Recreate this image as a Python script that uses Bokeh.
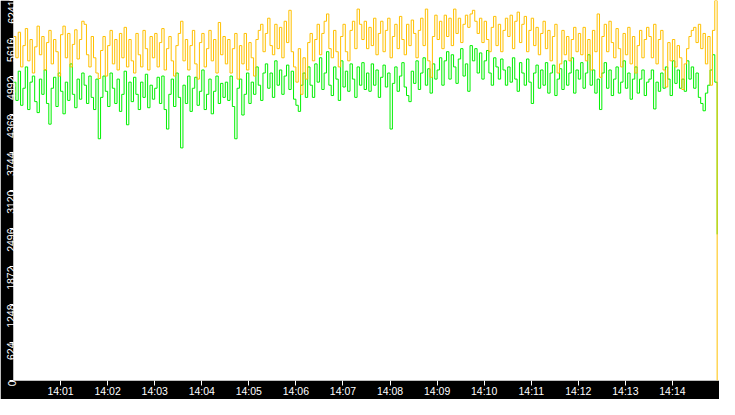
import math
import pandas as pd
from bokeh.plotting import figure
from bokeh.models import FixedTicker, DatetimeTickFormatter, Range1d
from bokeh.embed import file_html
from bokeh.resources import INLINE

# ---- data -------------------------------------------------------------
start_time = "2024-01-01 14:00:00"
end_time = "2024-01-01 14:15:00"
sample_seconds = 3

yellow_values = [
    5650, 5300, 5720, 5150, 5500, 5780, 5250, 5600, 5050, 5480, 5820, 5350, 5650, 5100, 5550,
    5750, 5200, 5600, 5400, 5000, 5680, 5820, 5300, 5700, 5150, 5520, 5760, 5280, 5600, 5900,
    5850, 5350, 5150, 5650, 5300, 5050, 4960, 5420, 5650, 5000, 5500, 5750, 5200, 5600, 5100,
    5700, 5300, 5800, 5150, 5600, 5250, 5050, 5700, 5350, 5150, 5750, 5450, 5100, 5650, 5300,
    5700, 5150, 5550, 5780, 5100, 5450, 5650, 5250, 5000, 5500, 5700, 5900, 5250, 5600, 5100,
    5500, 5750, 5200, 4950, 5550, 5700, 5150, 5450, 5750, 5250, 5600, 5050, 5880, 5350, 5650,
    5200, 5600, 5050, 5450, 5700, 4950, 5500, 5200, 5700, 5100, 5550, 5300, 5000, 5600, 5750,
    5850, 5400, 5700, 5950, 5500, 5350, 5850, 5450, 5800, 5300, 5900, 5550, 6080, 5400, 5150,
    4900, 5450, 4700, 5300, 4950, 5550, 5700, 5250, 5600, 5850, 5350, 5700, 5900, 6020, 5450,
    5300, 5750, 5400, 5150, 5650, 5850, 5400, 5250, 5750, 5900, 5450, 6100, 5850, 5600, 5900,
    5450, 5800, 5500, 5950, 5350, 5700, 5900, 5400, 5750, 5950, 5300, 5650, 5850, 5450, 5980,
    5600, 5350, 5850, 5500, 5920, 5700, 5300, 5750, 5950, 5500, 6100, 5250, 4980, 5650, 6000,
    5600, 5900, 5450, 6000, 5650, 5950, 5500, 6100, 5700, 5950, 5550, 5850, 6000, 5800, 6020,
    6080, 5900, 5700, 5950, 5550, 5900, 5600, 5400, 5800, 5980, 5500, 5850, 5400, 5750, 5950,
    5650, 6000, 5450, 5900, 6050, 5550, 5850, 5980, 5400, 5750, 5950, 5500, 5800, 5350, 5700,
    5900, 5450, 5750, 5250, 5650, 5850, 5050, 5200, 5750, 5350, 5650, 5250, 5600, 5800, 5400,
    5700, 5350, 5800, 5250, 5600, 5100, 5750, 5400, 6020, 4980, 5650, 5850, 5400, 5900, 5550,
    5300, 5780, 5450, 5150, 5700, 5350, 5800, 5200, 5650, 5050, 5500, 5750, 5300, 5600, 5800,
    5650, 5300, 5850, 5200, 5600, 5750, 5100, 4820, 5550, 5250, 5600, 5150, 5500, 5300, 4780,
    5200, 5450, 5650, 5750, 5800, 5550, 5850, 5450, 5700, 5200, 5650, 4850, 5750, 6241, 0,
]

green_values = [
    4900, 4600, 5080, 4520, 4800, 5150, 4450, 4900, 5000, 4580, 4400, 4950, 4700, 5100, 4550,
    4210, 4800, 4980, 4500, 5050, 4750, 4380, 4900, 4600, 5200, 4700, 4480, 4950, 4620, 5050,
    4850, 4550, 5000, 4650, 4450, 4950, 3970, 4650, 5000, 4750, 4500, 5050, 4800, 4550, 4950,
    4420, 4700, 5080, 4200, 4900, 4580, 4980, 4700, 4450, 4900, 4650, 5030, 4480, 4850, 4620,
    4800, 4980, 4550, 5000, 4450, 4130, 4700, 4950, 4500, 5050, 4650, 3820, 4850, 4550, 5000,
    4420, 4800, 4980, 4520, 4750, 5100, 4450, 4700, 4950, 4380, 4750, 5000, 4550, 4880, 4650,
    4900, 4600, 5000, 4500, 3970, 4800, 4950, 4360, 4700, 5050, 4550, 4900, 4700, 5150, 4850,
    4600, 5050, 5200, 4800, 5050, 4650, 5250, 4850, 5100, 4700, 5000, 5180, 4780, 5080, 4620,
    4520, 4420, 4850, 5050, 4650, 5150, 4850, 4650, 5200, 4900, 5300, 4780, 5050, 5400, 4850,
    4680, 5150, 4950, 4600, 5250, 4820, 5080, 4750, 5200, 4950, 4650, 5150, 4850, 5220, 4780,
    5050, 4750, 5200, 4850, 5100, 4650, 4980, 5180, 4820, 5050, 4130, 4880, 5150, 4750, 5000,
    5220, 4820, 4680, 4580, 5080, 4880, 5250, 4780, 5050, 5300, 4850, 5120, 4720, 5200, 4950,
    5100, 5300, 4850, 5250, 5400, 4950, 5350, 5150, 4880, 5280, 5450, 5000, 5200, 4750, 5500,
    5250, 5450, 5050, 5380, 4950, 5250, 5420, 5050, 4850, 5300, 5150, 4950, 5280, 5100, 4850,
    5150, 4900, 5300, 4950, 4750, 5220, 5050, 4850, 5280, 4900, 4550, 5050, 5180, 4800, 5100,
    4850, 5220, 4720, 5050, 5180, 4680, 4950, 5120, 4780, 5250, 4850, 5050, 5300, 4720, 5100,
    4950, 5220, 4800, 5050, 5350, 4850, 5100, 4720, 4950, 4450, 5050, 5220, 4800, 5100, 4680,
    4950, 5150, 4720, 4900, 5250, 4800, 5050, 4620, 4950, 5150, 4720, 4950, 5100, 4680, 4900,
    4950, 5100, 4460, 4900, 4750, 5050, 4800, 5150, 4950, 4680, 5250, 4880, 5100, 4800, 4950,
    4750, 5250, 4950, 5150, 4800, 5050, 4650, 4550, 4430, 4720, 4850, 5100, 5350, 4900, 2400,
]

y_max = 6241
y_tick_values = [0, 624, 1248, 1872, 2496, 3120, 3744, 4368, 4992, 5616, 6241]
y_tick_labels = ["0", "624", "1248", "1872", "2496", "3120", "3744", "4368", "4992", "5616", "6241"]
x_tick_labels = ["14:01", "14:02", "14:03", "14:04", "14:05", "14:06", "14:07",
                 "14:08", "14:09", "14:10", "14:11", "14:12", "14:13", "14:14"]

times = pd.date_range(start_time, periods=len(yellow_values), freq=f"{sample_seconds}s")
x_tick_times = [pd.Timestamp("2024-01-01 " + t) for t in x_tick_labels]
x_tick_ms = [t.value / 1e6 for t in x_tick_times]

FONT = "Liberation Sans"
FSIZE = "10.5px"

p = figure(width=719, height=399, x_axis_type="datetime",
           output_backend="svg", toolbar_location=None,
           x_range=Range1d(pd.Timestamp(start_time), pd.Timestamp(end_time)),
           y_range=Range1d(0, y_max),
           min_border_left=0, min_border_right=0, min_border_top=0, min_border_bottom=0)
p.border_fill_color = "black"
p.background_fill_color = "white"
p.outline_line_color = None
p.xgrid.visible = False
p.ygrid.visible = False

p.step(times, green_values, mode="after", line_color="#00F000", line_width=1)
p.step(times, yellow_values, mode="after", line_color="#FFC000", line_width=1)

# x axis
xa = p.xaxis[0]
xa.ticker = FixedTicker(ticks=x_tick_ms)
xa.formatter = DatetimeTickFormatter(minutes="%H:%M", hours="%H:%M", minsec="%H:%M", seconds="%H:%M")
xa.axis_line_color = None
xa.major_tick_line_color = "white"
xa.major_tick_out = 5
xa.major_tick_in = 0
xa.minor_tick_line_color = None
xa.major_label_standoff = -1
xa.major_label_text_color = "white"
xa.major_label_text_font = FONT
xa.major_label_text_font_size = FSIZE

# y axis
ya = p.yaxis[0]
ya.ticker = FixedTicker(ticks=y_tick_values)
ya.major_label_overrides = {v: l for v, l in zip(y_tick_values, y_tick_labels)}
ya.axis_line_color = None
ya.major_tick_line_color = "white"
ya.major_tick_out = 4
ya.major_tick_in = 0
ya.minor_tick_line_color = None
ya.major_label_standoff = -2
ya.major_label_orientation = math.pi / 2
ya.major_label_text_color = "white"
ya.major_label_text_font = FONT
ya.major_label_text_font_size = FSIZE

open("out.html", "w").write(file_html(p, INLINE))
